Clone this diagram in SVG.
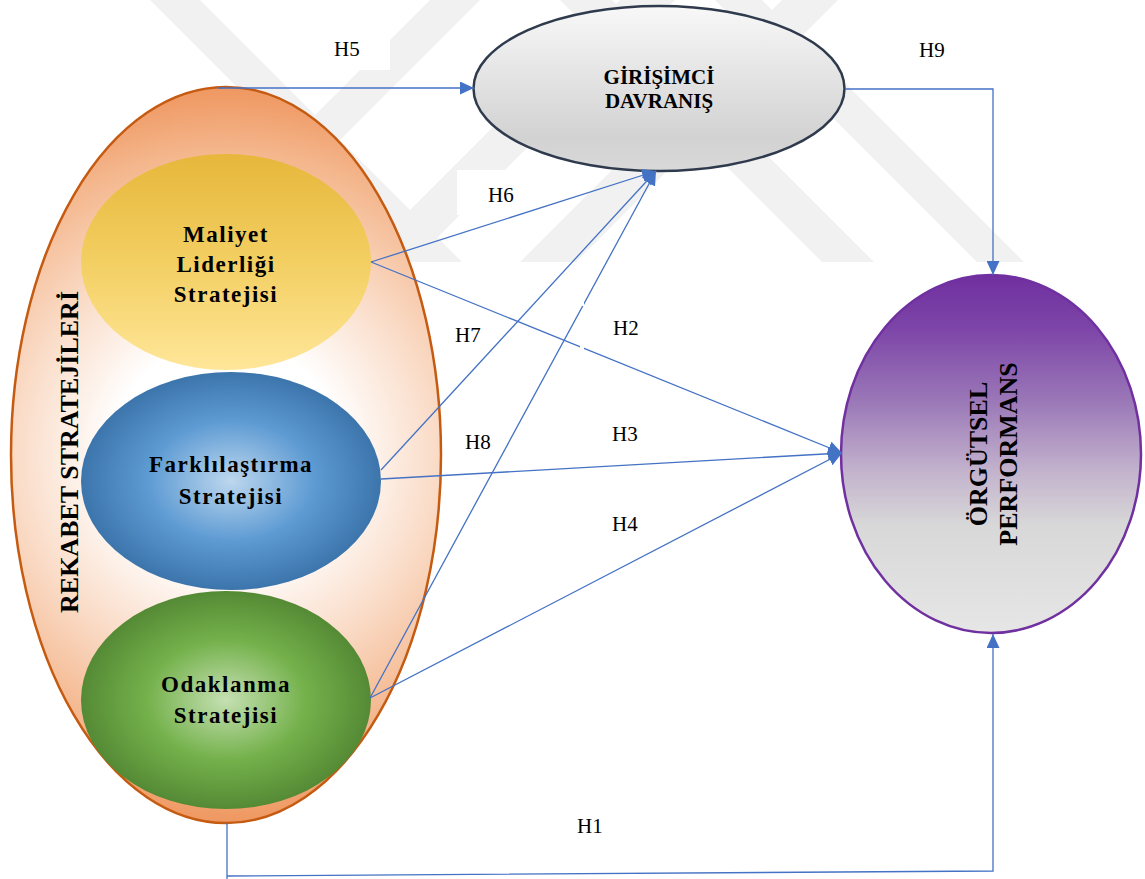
<svg xmlns="http://www.w3.org/2000/svg" width="1145" height="879" viewBox="0 0 1145 879">
  <style>
    .title { font-family: "Liberation Serif", "Times New Roman", serif; font-weight: bold; fill: #000; text-anchor: middle; }
    .inner { font-size: 23px; letter-spacing: 1.5px; }
    .lbl { font-family: "Liberation Serif", "Times New Roman", serif; font-size: 21px; fill: #000; }
    .conn { fill: none; stroke: #4472C4; stroke-width: 1.3; }
    .arr { marker-end: url(#tri); }
    .wm { fill: #F1F1F1; }
  </style>
  <defs>
    <marker id="tri" markerUnits="userSpaceOnUse" markerWidth="15" markerHeight="13" refX="14" refY="6.5" orient="auto">
      <path d="M0,0 L14,6.5 L0,13 Z" fill="#4472C4"/>
    </marker>
    <radialGradient id="gOuter" gradientUnits="userSpaceOnUse" cx="226" cy="455" r="380">
      <stop offset="0" stop-color="#FFFFFF"/>
      <stop offset="0.3" stop-color="#FFFFFF"/>
      <stop offset="0.55" stop-color="#FADCC8"/>
      <stop offset="0.8" stop-color="#F4B68C"/>
      <stop offset="1" stop-color="#EE9158"/>
    </radialGradient>
    <linearGradient id="gYellow" x1="0" y1="0" x2="0" y2="1">
      <stop offset="0" stop-color="#E6B73B"/>
      <stop offset="0.5" stop-color="#F3CF62"/>
      <stop offset="1" stop-color="#FFE699"/>
    </linearGradient>
    <radialGradient id="gBlue" cx="0.5" cy="0.5" r="0.5">
      <stop offset="0" stop-color="#BDD7EE"/>
      <stop offset="0.55" stop-color="#5E9BD3"/>
      <stop offset="1" stop-color="#3C75AC"/>
    </radialGradient>
    <radialGradient id="gGreen" cx="0.5" cy="0.5" r="0.5">
      <stop offset="0" stop-color="#C5E0B3"/>
      <stop offset="0.55" stop-color="#74B14B"/>
      <stop offset="1" stop-color="#558A35"/>
    </radialGradient>
    <linearGradient id="gGray" x1="0" y1="0" x2="0" y2="1">
      <stop offset="0" stop-color="#F8F8F8"/>
      <stop offset="0.8" stop-color="#D2D2D2"/>
      <stop offset="1" stop-color="#D9D9D9"/>
    </linearGradient>
    <linearGradient id="gPurple" x1="0" y1="0" x2="0" y2="1">
      <stop offset="0" stop-color="#7030A0"/>
      <stop offset="0.15" stop-color="#7D45A8"/>
      <stop offset="0.35" stop-color="#9A77B7"/>
      <stop offset="0.55" stop-color="#C3B3CD"/>
      <stop offset="0.7" stop-color="#D8D8D8"/>
      <stop offset="1" stop-color="#E6E6E6"/>
    </linearGradient>
    <clipPath id="wmClip">
      <rect x="0" y="0" width="1145" height="262"/>
    </clipPath>
  </defs>

  <rect width="1145" height="879" fill="#FFFFFF"/>

  <!-- faint background emblem made of diagonal bars -->
  <g id="emblem" clip-path="url(#wmClip)">
    <polygon class="wm" points="150,0 200,0 462,262 412,262"/>
    <polygon class="wm" points="560,0 612,0 874,262 822,262"/>
    <polygon class="wm" points="715,0 762,0 1024,262 977,262"/>
    <polygon class="wm" points="430,0 480,0 218,262 168,262"/>
    <polygon class="wm" points="620,0 675,0 413,262 358,262"/>
    <polygon class="wm" points="782,0 838,0 576,262 520,262"/>
  </g>

  <!-- white label boxes -->
  <rect x="307" y="25" width="83" height="45" fill="#FFFFFF"/>
  <rect x="457" y="170" width="83" height="45" fill="#FFFFFF"/>

  <g id="rekabet-stratejileri">
    <ellipse cx="226" cy="455" rx="215" ry="368" fill="url(#gOuter)" stroke="#C55A11" stroke-width="2.5"/>
    <text class="title" font-size="26" transform="translate(78,452) rotate(-90)">REKABET STRATEJİLERİ</text>
  </g>

  <g id="maliyet-liderligi">
    <ellipse cx="226" cy="262" rx="145" ry="108" fill="url(#gYellow)"/>
    <text class="title inner" x="226" y="242">Maliyet</text>
    <text class="title inner" x="226" y="272">Liderliği</text>
    <text class="title inner" x="226" y="302">Stratejisi</text>
  </g>

  <g id="farklilastirma">
    <ellipse cx="231" cy="481" rx="150" ry="109" fill="url(#gBlue)"/>
    <text class="title inner" x="231" y="472">Farklılaştırma</text>
    <text class="title inner" x="231" y="504">Stratejisi</text>
  </g>

  <g id="odaklanma">
    <ellipse cx="226" cy="700" rx="145" ry="109" fill="url(#gGreen)"/>
    <text class="title inner" x="226" y="692">Odaklanma</text>
    <text class="title inner" x="226" y="723">Stratejisi</text>
  </g>

  <g id="girisimci-davranis">
    <ellipse cx="659" cy="88.5" rx="185.5" ry="82.5" fill="url(#gGray)" stroke="#2F3B4D" stroke-width="2.5"/>
    <text class="title" font-size="21" x="659" y="84">GİRİŞİMCİ</text>
    <text class="title" font-size="21" x="659" y="108">DAVRANIŞ</text>
  </g>

  <g id="orgutsel-performans">
    <ellipse cx="991" cy="454" rx="150" ry="179" fill="url(#gPurple)" stroke="#7030A0" stroke-width="2.5"/>
    <text class="title" font-size="26" transform="translate(987,454) rotate(-90)">ÖRGÜTSEL</text>
    <text class="title" font-size="26" transform="translate(1017,454) rotate(-90)">PERFORMANS</text>
  </g>

  <g id="connectors">
    <!-- H5 -->
    <line class="conn arr" x1="218" y1="88" x2="474" y2="88"/>
    <!-- H9 -->
    <polyline class="conn arr" points="845,89 993,89 993,275"/>
    <!-- H1 -->
    <polyline class="conn" points="227,823 227,879"/>
    <polyline class="conn arr" points="227,876 993,871 993,634"/>
    <!-- H6, H7, H8 into GİRİŞİMCİ DAVRANIŞ -->
    <line class="conn arr" x1="371" y1="262" x2="656" y2="171"/>
    <line class="conn arr" x1="381" y1="470" x2="656" y2="171"/>
    <line class="conn arr" x1="370" y1="698" x2="656" y2="171"/>
    <!-- H2, H3, H4 into ÖRGÜTSEL PERFORMANS -->
    <line class="conn arr" x1="371" y1="262" x2="842" y2="453"/>
    <line class="conn arr" x1="381" y1="479" x2="842" y2="453"/>
    <line class="conn arr" x1="370" y1="698" x2="842" y2="453"/>
    <!-- text box edge breaking the lines -->
    <rect x="580" y="297" width="4" height="9" fill="#FFFFFF"/>
    <rect x="580" y="343" width="4" height="7" fill="#FFFFFF"/>
  </g>

  <g id="labels">
    <text class="lbl" x="334" y="56">H5</text>
    <text class="lbl" x="488" y="202">H6</text>
    <text class="lbl" x="919" y="57">H9</text>
    <text class="lbl" x="613" y="335">H2</text>
    <text class="lbl" x="455" y="342">H7</text>
    <text class="lbl" x="465" y="449">H8</text>
    <text class="lbl" x="612" y="441">H3</text>
    <text class="lbl" x="612" y="531">H4</text>
    <text class="lbl" x="577" y="833">H1</text>
  </g>
</svg>
